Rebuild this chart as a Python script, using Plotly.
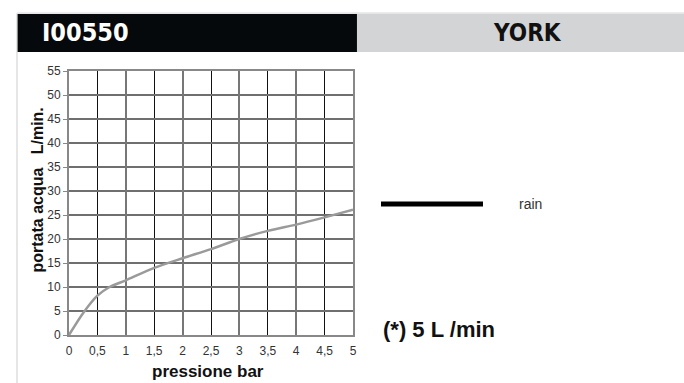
import plotly.graph_objects as go

# ---- data ----
pressure_bar = [0, 0.25, 0.5, 0.7, 1.0, 1.5, 2.0, 2.5, 3.0, 3.5, 4.0, 4.5, 5.0]
flow_l_min = [0, 4.6, 8.2, 9.9, 11.4, 14.0, 16.0, 17.9, 20.0, 21.7, 23.0, 24.5, 26.1]
x_tick_vals = [0, 0.5, 1, 1.5, 2, 2.5, 3, 3.5, 4, 4.5, 5]
x_tick_text = ["0", "0,5", "1", "1,5", "2", "2,5", "3", "3,5", "4", "4,5", "5"]
x_major_vals = [0, 1, 2, 3, 4, 5]
y_tick_vals = [0, 5, 10, 15, 20, 25, 30, 35, 40, 45, 50, 55]
series_name = "rain"
model_code = "I00550"
model_name = "YORK"
note_text = "(*) 5 L /min"
x_title = "pressione bar"
y_title = "portata acqua\u00a0\u00a0\u00a0L/min."

FONT = "Liberation Sans, Arial, sans-serif"
COND = "DejaVu Sans Condensed, DejaVu Sans, sans-serif"

fig = go.Figure()
fig.add_trace(go.Scatter(
    x=pressure_bar, y=flow_l_min, mode="lines", name=series_name,
    line=dict(color="#9a9a9a", width=2.5, shape="spline", smoothing=0.8),
    showlegend=False, hoverinfo="x+y",
))
# invisible trace on overlay axis for integer gridlines
fig.add_trace(go.Scatter(x=[x_major_vals[0], x_major_vals[-1]], y=[0, 0], xaxis="x2",
                         mode="markers", marker=dict(opacity=0), showlegend=False,
                         hoverinfo="skip"))

fig.update_layout(
    width=684, height=383,
    margin=dict(l=69, r=331, t=71, b=48),
    paper_bgcolor="white", plot_bgcolor="white",
    font=dict(family=FONT, size=12, color="#333"),
    xaxis=dict(
        range=[0, 5], tickvals=x_tick_vals, ticktext=x_tick_text,
        showgrid=True, gridcolor="#111", gridwidth=1,
        showline=True, linecolor="#888", linewidth=2, mirror=True,
        ticks="outside", ticklen=4, tickcolor="rgba(0,0,0,0)",
        zeroline=False, tickfont=dict(size=12, color="#333"),
        automargin=False, fixedrange=True,
    ),
    xaxis2=dict(
        range=[0, 5], overlaying="x", anchor="y", side="bottom",
        tickvals=x_major_vals, showticklabels=False, ticks="",
        showgrid=True, gridcolor="#777", gridwidth=2, zeroline=False,
        showline=False, automargin=False, fixedrange=True,
    ),
    yaxis=dict(
        range=[0, 55], tickvals=y_tick_vals,
        showgrid=True, gridcolor="#6f6f6f", gridwidth=2,
        showline=True, linecolor="#888", linewidth=2, mirror=True,
        ticks="outside", ticklen=4, tickcolor="#888", tickwidth=1,
        zeroline=False, tickfont=dict(size=12, color="#333"),
        automargin=False, fixedrange=True,
    ),
    showlegend=False,
)

shapes = [
    # outer light border (top + left)
    dict(type="line", xref="paper", yref="paper", x0=-0.183, x1=2.2, y0=1.219, y1=1.219,
         line=dict(color="#e6e6e6", width=2)),
    dict(type="line", xref="paper", yref="paper", x0=-0.183, x1=-0.183, y0=1.219, y1=-0.2,
         line=dict(color="#e6e6e6", width=2)),
    # header bars
    dict(type="rect", xref="paper", yref="paper", x0=-0.181, x1=1.014, y0=1.072, y1=1.216,
         fillcolor="#05090b", line=dict(width=0)),
    dict(type="rect", xref="paper", yref="paper", x0=1.014, x1=2.2, y0=1.072, y1=1.216,
         fillcolor="#d3d4d6", line=dict(width=0)),
    # legend line
    dict(type="line", xref="paper", yref="paper", x0=1.0986, x1=1.4577, y0=0.4962, y1=0.4962,
         line=dict(color="#000", width=5)),
]
fig.update_layout(shapes=shapes)

annotations = [
    dict(text=f"<b>{model_code}</b>", xref="paper", yref="paper", x=-0.102, y=1.144,
         xanchor="left", yanchor="middle", showarrow=False,
         font=dict(family=COND, size=25, color="white")),
    dict(text=f"<b>{model_name}</b>", xref="paper", yref="paper", x=1.613, y=1.144,
         xanchor="center", yanchor="middle", showarrow=False,
         font=dict(family=COND, size=24, color="#111")),
    dict(text=series_name, xref="paper", yref="paper", x=1.577, y=0.4962,
         xanchor="left", yanchor="middle", showarrow=False,
         font=dict(family=FONT, size=14, color="#333")),
    dict(text=f"<b>{note_text}</b>", xref="paper", yref="paper", x=1.098, y=0.019,
         xanchor="left", yanchor="middle", showarrow=False,
         font=dict(family=FONT, size=22, color="#111")),
    # axis titles
    dict(text=f"<b>{x_title}</b>", xref="paper", yref="paper", x=0.489, y=-0.140,
         xanchor="center", yanchor="middle", showarrow=False,
         font=dict(family=FONT, size=17, color="#111")),
    dict(text=f"<b>{y_title}</b>", xref="paper", yref="paper", x=-0.111, y=0.549,
         xanchor="center", yanchor="middle", textangle=-90, showarrow=False,
         font=dict(family=FONT, size=16, color="#111")),
]
fig.update_layout(annotations=annotations)

fig.write_html("out.html", config={"displayModeBar": False},
               post_script="document.body.style.margin='0';")
